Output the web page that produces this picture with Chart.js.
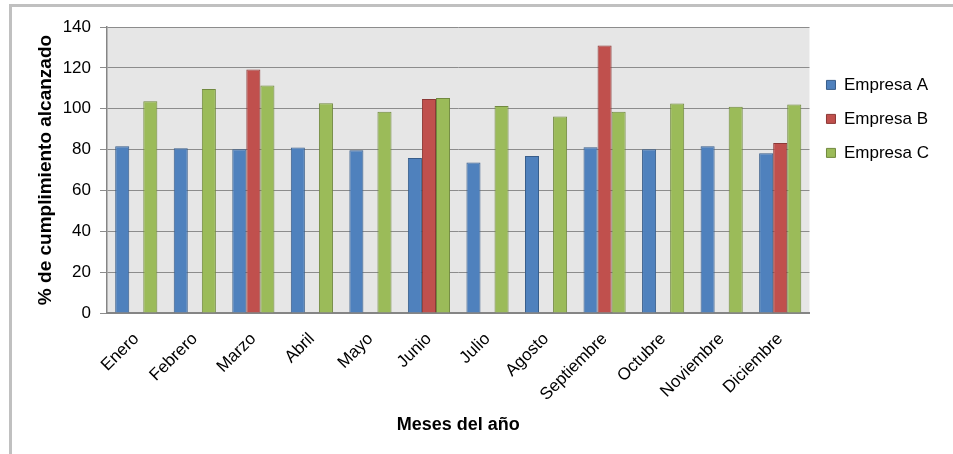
<!DOCTYPE html>
<html>
<head>
<meta charset="utf-8">
<script src="https://cdn.jsdelivr.net/npm/chart.js@4"></script>
<style>
  body { margin: 0; background: #fff; }
  #frame {
    position: absolute; left: 9px; top: 4px; width: 941px; height: 447px;
    border-left: 3px solid #c0c0c0; border-top: 3px solid #c0c0c0;
  }
</style>
</head>
<body>
<div id="frame"><canvas id="cumplimientoChart" width="941" height="447"></canvas></div>
<script>
var meses = ['Enero', 'Febrero', 'Marzo', 'Abril', 'Mayo', 'Junio', 'Julio', 'Agosto',
             'Septiembre', 'Octubre', 'Noviembre', 'Diciembre'];
var empresaA = [81.6, 80.6, 80.1, 81.0, 79.7, 75.9, 73.7, 76.9, 81.1, 80.1, 81.6, 78.2];
var empresaB = [null, null, 119.2, null, null, 104.7, null, null, 130.9, null, null, 83.2];
var empresaC = [103.7, 109.6, 111.4, 102.7, 98.5, 105.2, 101.3, 96.2, 98.5, 102.6, 101.0, 102.1];
var yTicks = [0, 20, 40, 60, 80, 100, 120, 140];

// gray plot area like the original spreadsheet chart
var plotBackground = {
    id: 'plotBackground',
    beforeDraw: function (chart) {
        var a = chart.chartArea;
        chart.ctx.save();
        chart.ctx.fillStyle = '#e6e6e6';
        chart.ctx.fillRect(a.left, a.top, a.right - a.left, a.bottom - a.top);
        chart.ctx.restore();
    }
};

var ctx = document.getElementById('cumplimientoChart').getContext('2d');
var chart = new Chart(ctx, {
    type: 'bar',
    data: {
        labels: meses,
        datasets: [{
            label: 'Empresa A',
            data: empresaA,
            backgroundColor: '#4f81bd',
            borderColor: '#385d8a',
            borderWidth: 1
        }, {
            label: 'Empresa B',
            data: empresaB,
            backgroundColor: '#c0504d',
            borderColor: '#8c3836',
            borderWidth: 1
        }, {
            label: 'Empresa C',
            data: empresaC,
            backgroundColor: '#9bbb59',
            borderColor: '#71893f',
            borderWidth: 1
        }]
    },
    options: {
        responsive: false,
        animation: false,
        categoryPercentage: 0.72,
        barPercentage: 1,
        layout: { autoPadding: false, padding: { left: 22, top: 20, right: 14, bottom: 18 } },
        plugins: {
            tooltip: { enabled: false },
            legend: {
                position: 'right',
                align: 'start',
                title: { display: true, text: '', padding: { top: 18, bottom: 0 } },
                labels: {
                    boxWidth: 9,
                    boxHeight: 9,
                    padding: 17,
                    color: '#000',
                    font: { family: 'Liberation Sans', size: 17 }
                }
            }
        },
        scales: {
            x: {
                afterFit: function (scale) {
                    scale.height = 123;
                },
                grid: { display: false, drawTicks: false },
                border: { color: '#858585', width: 2 },
                ticks: {
                    color: '#000',
                    font: { family: 'Liberation Sans', size: 17 },
                    minRotation: 45,
                    maxRotation: 45,
                    padding: 16
                },
                title: {
                    display: true,
                    text: 'Meses del año',
                    color: '#000',
                    font: { family: 'Liberation Sans', size: 18, weight: 'bold' },
                    padding: { top: 3, bottom: 0 }
                }
            },
            y: {
                min: 0,
                max: 140,
                afterBuildTicks: function (scale) {
                    scale.ticks = yTicks.map(function (v) { return { value: v }; });
                },
                afterFit: function (scale) {
                    scale.width = 73;
                },
                grid: { color: '#8c8c8c', tickLength: 7 },
                border: { color: '#858585', width: 1.5 },
                ticks: {
                    color: '#000',
                    font: { family: 'Liberation Sans', size: 17 },
                    padding: 9
                },
                title: {
                    display: true,
                    text: '% de cumplimiento alcanzado',
                    color: '#000',
                    font: { family: 'Liberation Sans', size: 19, weight: 'bold' },
                    padding: { top: 0, bottom: 6 }
                }
            }
        }
    },
    plugins: [plotBackground]
});
</script>
</body>
</html>
